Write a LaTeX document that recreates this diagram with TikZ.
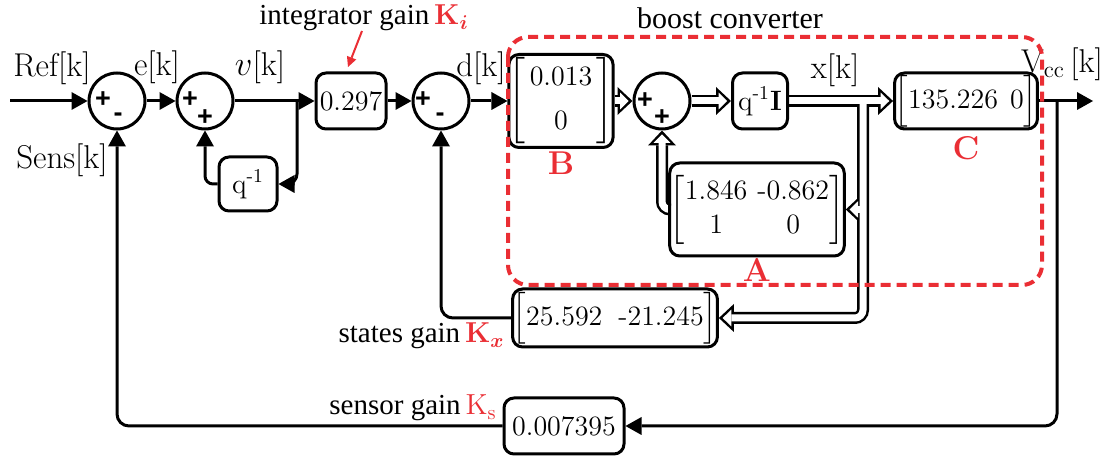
\documentclass[tikz,border=0pt]{standalone}
\usepackage{fontspec}
\usepackage{amsmath}
\newfontfamily\tms{Liberation Serif}
\newfontfamily\sgn{Liberation Sans}
\usetikzlibrary{arrows.meta,calc}
\definecolor{rd}{RGB}{234,46,52}
\pgfdeclarelayer{bg}
\pgfsetlayers{bg,main}
\tikzset{
 lbl/.style={font=\fontsize{16.5}{19}\selectfont, inner sep=0pt},
 tlbl/.style={font=\tms\fontsize{14.5}{17}\selectfont, inner sep=0pt},
 rlbl/.style={font=\fontsize{16.5}{19}\selectfont\bfseries, text=rd, inner sep=0pt},
 sgnl/.style={font=\sgn\bfseries\fontsize{13.5}{13.5}\selectfont, inner sep=0pt},
 blk/.style={draw, line width=1.5pt, rounded corners=5pt, inner sep=0pt, font=\fontsize{14}{17}\selectfont},
 sumc/.style={draw, circle, line width=1.5pt, minimum size=28pt, inner sep=0pt},
 conn/.style={line width=1.5pt, -{Triangle[length=8pt,width=9pt,line width=0pt]}},
 hout/.style={line width=6pt, -{Triangle[length=7.5pt,width=14pt,line width=0pt]}},
 hin/.style={line width=3.5pt, white, shorten >=1.9pt, -{Triangle[length=4.3pt,width=8.4pt,line width=0pt]}},
 redarr/.style={rd, line width=1pt, -{Triangle[length=5pt,width=5pt,line width=0pt]}},
 rbox/.style={rd, line width=2pt, dash pattern=on 5pt off 3pt, rounded corners=10pt},
}
\begin{document}
\begin{tikzpicture}[x=0.5pt,y=-0.5pt]
\useasboundingbox (0,0) rectangle (1104,459);

% summing junctions
\node[sumc] (S1) at (117,101) {};
\node[sumc] (S2) at (205,101) {};
\node[sumc] (S3) at (441,101) {};
\node[sumc] (S4) at (662,101) {};
\node[sgnl] (S1p) at ($(S1)+(-14,-1)$) {+};
\node[sgnl] (S1m) at ($(S1)+(1,16)$) {-};
\node[sgnl] (S2p) at ($(S2)+(-15,-1)$) {+};
\node[sgnl] (S2q) at ($(S2)+(0,17)$) {+};
\node[sgnl] (S3p) at ($(S3)+(-18,-1)$) {+};
\node[sgnl] (S3m) at ($(S3)+(-1,16)$) {-};
\node[sgnl] (S4p) at ($(S4)+(-17,0)$) {+};
\node[sgnl] (S4q) at ($(S4)+(0,17)$) {+};

% blocks
\node[blk, minimum width=35pt, minimum height=28pt] (K297) at (351,101) {0.297};
\node[blk, minimum width=29pt, minimum height=27pt] (Q1) at (248,184) {q\textsuperscript{-1}};
\node[blk, minimum width=48pt, minimum height=46.5pt] (Bm) at (561,101)
  {$\left[\begin{tabular}{@{\hspace{2pt}}c@{\hspace{2pt}}}0.013\\[5pt]0\end{tabular}\right]$};
\node[blk, minimum width=27.5pt, minimum height=28pt] (QI) at (760,101) {q\textsuperscript{-1}\textbf{I}};
\node[blk, minimum width=70.5pt, minimum height=28pt] (Cm) at (966,101)
  {$\left[\vrule height 12pt depth 9pt width 0pt\mbox{135.226\hspace{6pt}0}\right]$};
\node[blk, minimum width=83pt, minimum height=46.5pt] (Am) at (757,209.5)
  {$\left[\begin{tabular}{@{}c@{\hspace{5pt}}c@{}}1.846 & -0.862\\ 1 & 0\end{tabular}\right]$};
\node[blk, minimum width=102pt, minimum height=29pt] (Kx) at (615,318)
  {$\left[\vrule height 12pt depth 9pt width 0pt\mbox{25.592\hspace{8pt}-21.245}\right]$};
\node[blk, minimum width=60pt, minimum height=28pt] (Ks) at (564,426) {0.007395};

% labels
\node[lbl] (refl) at (52,68) {Ref[k]};
\node[lbl] (el) at (157,67) {e[k]};
\node[lbl] (vl) at (260,67) {$v$[k]};
\node[lbl] (sensl) at (62,160) {Sens[k]};
\node[lbl] (dl) at (481,68) {d[k]};
\node[lbl] (xl) at (835,70) {x[k]};
\node[lbl] (vccl) at (1062,64) {V\textsubscript{cc}\,[k]};
\node[rlbl] (Bl) at (561,163) {B};
\node[rlbl] (Cl) at (966,148) {C};
\node[rlbl] (Al) at (757,270) {A};
\node[tlbl, font=\tms\fontsize{15}{18}\selectfont] (bcl) at (730,18) {boost converter};
\node[tlbl, anchor=base] (kil) at (364,25) {integrator gain\,{\color{rd}\boldmath$\mathbf{K}_{i}$}};
\node[tlbl, anchor=base east] (kxl) at (505,343) {states gain\,{\color{rd}\boldmath$\mathbf{K}_{x}$}};
\node[tlbl, anchor=base east] (ksl) at (497,415) {sensor gain\,{\color{rd}$\mathrm{K}_{\mathrm{s}}$}};

% coordinates
\coordinate (in) at (10,101);
\coordinate (b1) at (297,101);
\coordinate (out) at (1093,101);
\coordinate (b2) at (1057,101);
\coordinate (xb) at (863,101);
\coordinate (xa) at (863,209.5);
\coordinate (kia) at (362,31);
\coordinate (kib) at (348,67);

% signal connectors
\draw[conn] (in) -- (S1.west);
\draw[conn] (S1.east) -- (S2.west);
\draw[conn] (S2.east) -- (K297.west);
\draw[conn, rounded corners=5pt] (b1) |- (Q1.east);
\draw[conn, rounded corners=4pt] (Q1.west) -| (S2.south);
\draw[conn] (K297.east) -- (S3.west);
\draw[conn] (S3.east) -- (Bm.west);
\draw[conn] (Cm.east) -- (out);
\draw[conn, rounded corners=6pt] (b2) |- (Ks.east);
\draw[conn, rounded corners=6pt] (Ks.west) -| (S1.south);
\draw[conn, rounded corners=6pt] (Kx.west) -| (S3.south);
\draw[redarr] (kia) -- (kib);

% vector (hollow) connectors
\begin{pgfonlayer}{bg}
\draw[hout] (Bm.east) -- (S4.west);
\draw[hout] (S4.east) -- (QI.west);
\draw[hout] (QI.east) -- (Cm.west);
\draw[hout, rounded corners=4pt] (xb) |- (Kx.east);
\draw[hout] (xa) -- (Am.east);
\draw[hout, rounded corners=4pt] (Am.west) -| (S4.south);
\draw[hin] (Bm.east) -- (S4.west);
\draw[hin] (S4.east) -- (QI.west);
\draw[hin] (QI.east) -- (Cm.west);
\draw[hin, rounded corners=4pt] (xb) |- (Kx.east);
\draw[hin] (xa) -- (Am.east);
\draw[hin, rounded corners=4pt] (Am.west) -| (S4.south);
\end{pgfonlayer}

% boost converter frame
\draw[rbox] (508,37) rectangle (1042,285);
\end{tikzpicture}
\end{document}
